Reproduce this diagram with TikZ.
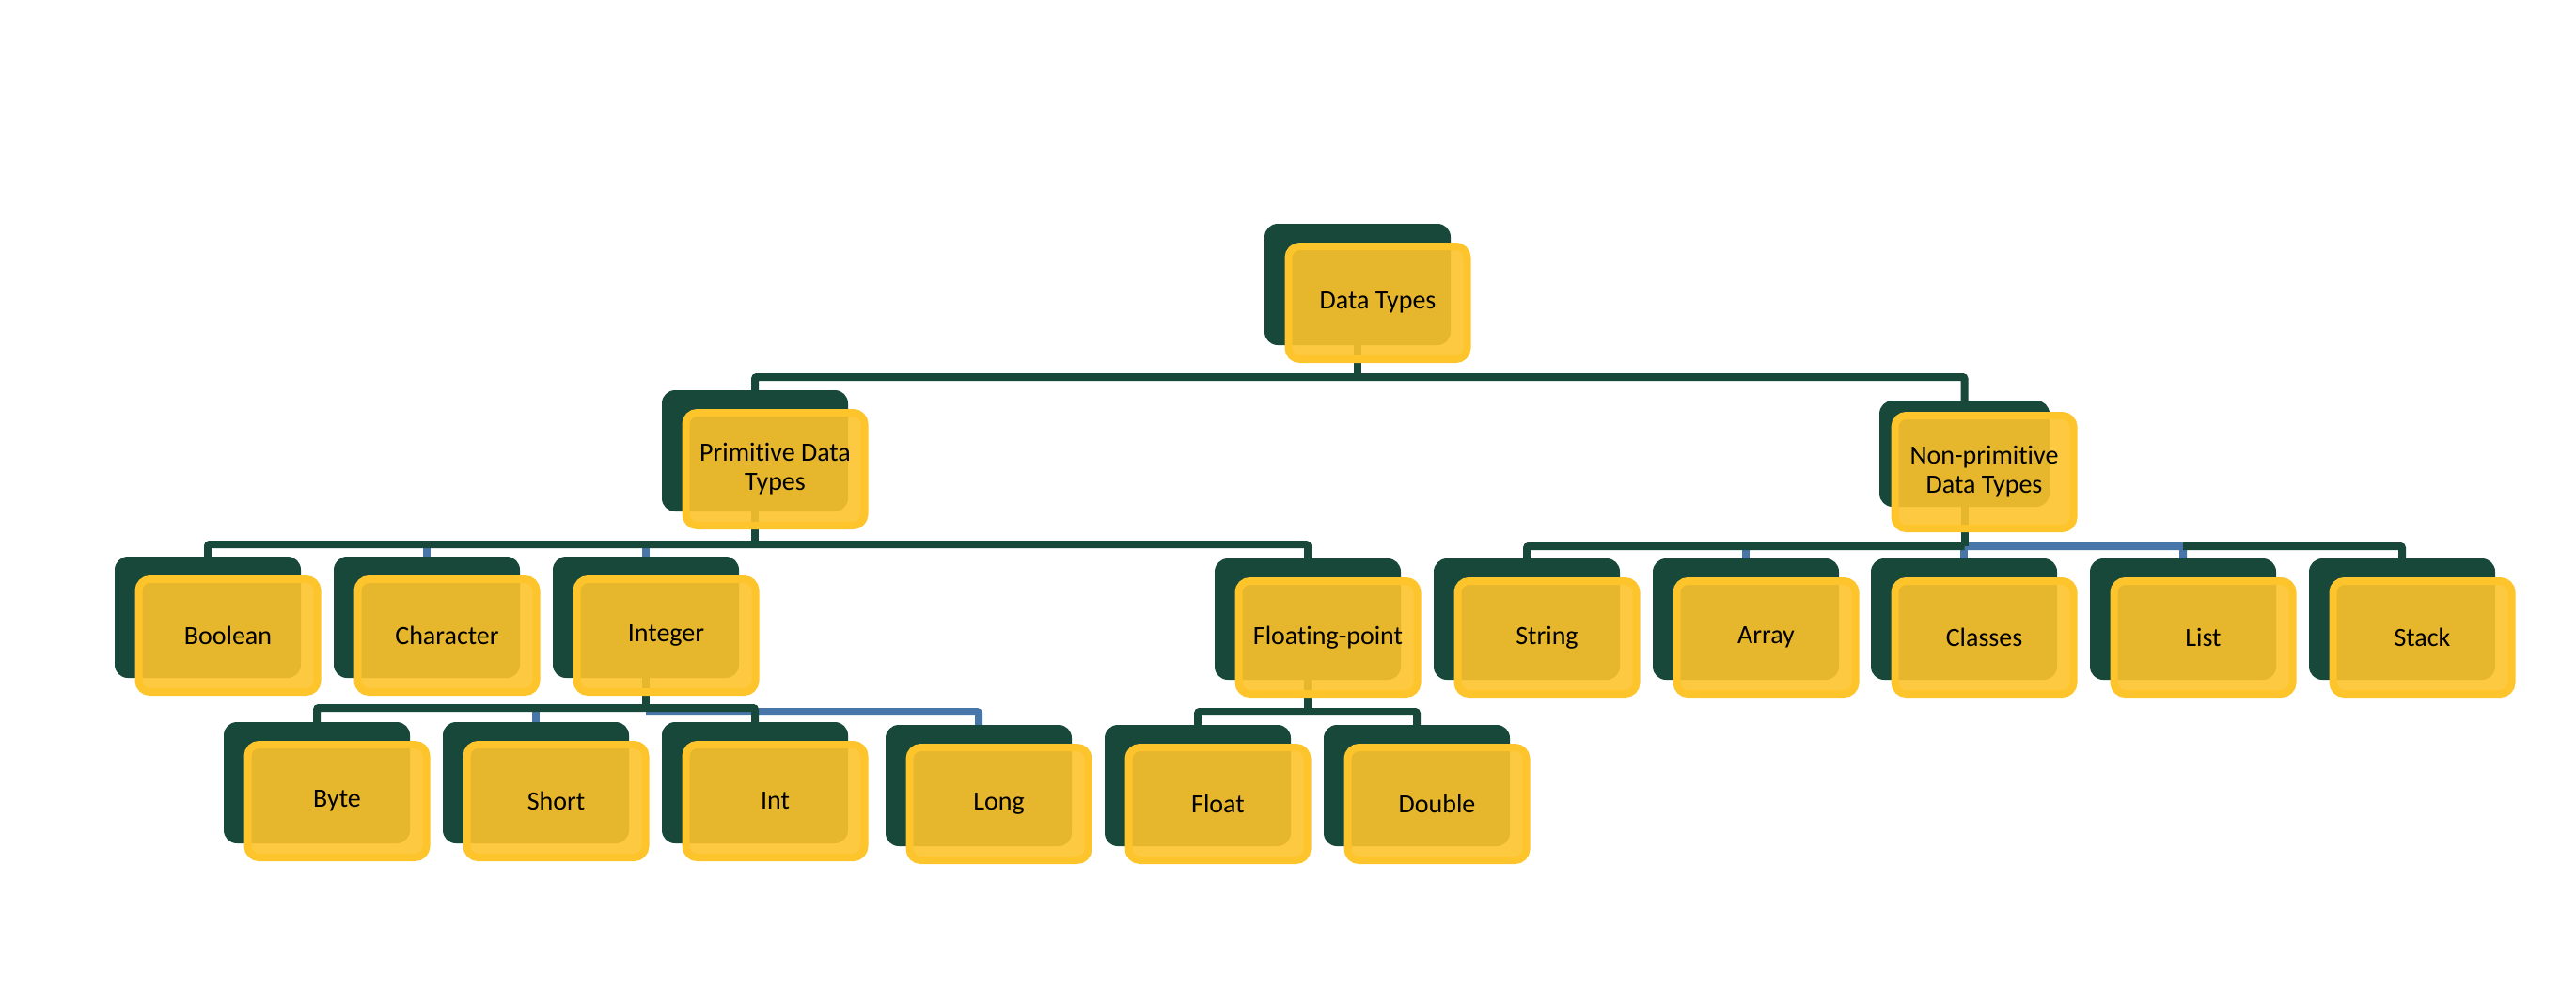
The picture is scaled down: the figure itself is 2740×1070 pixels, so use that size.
\documentclass[tikz,border=0pt]{standalone}
\usepackage{fontspec}
\setmainfont{Carlito}[Ligatures=NoCommon]
\usetikzlibrary{backgrounds}
\definecolor{dkg}{RGB}{23,72,58}
\definecolor{blu}{RGB}{72,118,168}
\definecolor{yfill}{RGB}{253,195,43}
\definecolor{yedge}{RGB}{254,196,44}
\tikzset{
  dkbox/.style={draw=none,fill=dkg,rounded corners=14pt,minimum width=198pt,minimum height=129pt,inner sep=0pt},
  ybox/.style={draw=yedge,line width=8pt,fill=yfill,fill opacity=0.9,text opacity=1,rounded corners=12pt,minimum width=190pt,minimum height=120pt,inner sep=0pt,align=center,font=\fontsize{28}{31}\selectfont},
  conn/.style={draw=dkg,line width=8pt,rounded corners=2pt},
  connb/.style={draw=blu,line width=8pt,rounded corners=2pt}
}
\newcommand\mynode[4]{%
  \node[dkbox] (#1) at (#2+99,#3+64.5) {};
  \node[ybox] (#1y) at (#2+120.5,#3+84) {#4};}
\begin{document}
\begin{tikzpicture}[x=1pt,y=-1pt]
\useasboundingbox (0,0) rectangle (2740,1070);
\mynode{dt}{1345}{238}{Data Types}
\mynode{prim}{704}{415}{Primitive Data\\Types}
\node[dkbox,minimum width=181pt,minimum height=113pt] (np) at (2089.5,482.5) {};
\node[ybox] (npy) at (2110.5,502) {Non-primitive\\Data Types};
\mynode{bool}{122}{592}{Boolean}
\mynode{char}{355}{592}{Character}
\mynode{integ}{588}{592}{Integer}
\mynode{fp}{1292}{594}{Floating-point}
\mynode{str}{1525}{594}{String}
\mynode{arr}{1758}{594}{Array}
\mynode{cls}{1990}{594}{Classes}
\mynode{lst}{2223}{594}{List}
\mynode{stk}{2456}{594}{Stack}
\mynode{byte}{238}{768}{Byte}
\mynode{short}{471}{768}{Short}
\mynode{int}{704}{768}{Int}
\mynode{long}{942}{771}{Long}
\mynode{flt}{1175}{771}{Float}
\mynode{dbl}{1408}{771}{Double}
\coordinate (b0) at (0,401);
\coordinate (b1) at (0,579);
\coordinate (b2) at (0,753);
\coordinate (b2b) at (0,757);
\coordinate (b3) at (0,757);
\coordinate (b4) at (0,581);
\begin{pgfonlayer}{background}
% Data Types
\draw[conn] (dt.south) -- (dt.south |- b0);
\draw[conn] (prim.north) |- (np.north |- b0) -- (np.north);
% Primitive
\draw[connb] (char.north) -- (char.north |- b1);
\draw[connb] (integ.north) -- (integ.north |- b1);
\draw[conn] (prim.south) -- (prim.south |- b1);
\draw[conn] (bool.north) |- (fp.north |- b1) -- (fp.north);
% Integer
\draw[connb] (short.north) -- (short.north |- b2);
\draw[connb] (integ.south |- b2b) -| (long.north);
\draw[conn] (integ.south) -- (integ.south |- b2);
\draw[conn] (byte.north) |- (int.north |- b2) -- (int.north);
% Floating-point
\draw[conn] (fp.south) -- (fp.south |- b3);
\draw[conn] (flt.north) |- (dbl.north |- b3) -- (dbl.north);
% Non-primitive
\draw[connb] (arr.north) -- (arr.north |- b4);
\draw[connb] (cls.north) -- (cls.north |- b4);
\draw[connb] (np.south |- b4) -| (lst.north);
\draw[conn] (np.south) -- (np.south |- b4);
\draw[conn] (str.north) |- (np.south |- b4);
\draw[conn] (lst.north |- b4) -| (stk.north);
\end{pgfonlayer}
\end{tikzpicture}
\end{document}
